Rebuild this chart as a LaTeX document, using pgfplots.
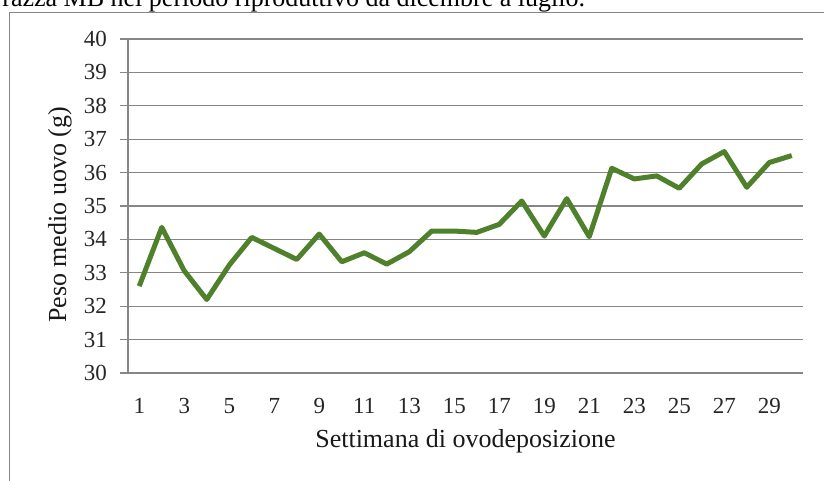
\documentclass[border=0pt]{standalone}
\usepackage{pgfplots}
\pgfplotsset{compat=1.18}
\usepackage{fontspec}
\setmainfont{Liberation Serif}
\definecolor{linegreen}{RGB}{79,129,45}
\definecolor{gridgray}{RGB}{134,134,134}
\begin{document}
\begin{tikzpicture}[x=1pt,y=1pt]
\useasboundingbox (0,0) rectangle (412,240.5);
\node[anchor=base west, inner sep=0pt, font=\fontsize{13}{15}\selectfont] at (1,237.2) {razza MB nel periodo riproduttivo da dicembre a luglio.};
\draw[gridgray, line width=0.6pt] (4.65,-1) -- (4.65,234.3) -- (420,234.3);
\begin{axis}[
  at={(64pt,54pt)}, anchor=south west,
  scale only axis, width=337.5pt, height=167pt,
  xmin=0.5, xmax=30.5, ymin=30, ymax=40,
  axis x line*=bottom, axis y line*=left,
  axis line style={gridgray, line width=0.6pt},
  xtick={1,3,...,29},
  minor xtick={0.5,2.5,...,30.5},
  ytick={30,31,...,40},
  xtick style={draw=none},
  minor tick style={gridgray, line width=0.6pt},
  ytick style={gridgray, line width=0.6pt},
  tick align=outside,
  major tick length=4pt, minor tick length=4pt,
  ymajorgrids,
  grid style={gridgray, line width=0.6pt},
  /pgf/number format/assume math mode=true,
  tick label style={font=\fontsize{11.5}{13}\selectfont, text=black!85},
  yticklabel style={anchor=east, xshift=-3pt},
  xticklabel style={anchor=north, yshift=-5pt},
  label style={font=\fontsize{13}{15}\selectfont, text=black!90},
  ylabel={Peso medio uovo (g)},
  ylabel style={at={(axis description cs:-0.1007,0.473)}, anchor=center, rotate=0},
  xlabel={Settimana di ovodeposizione},
  xlabel style={at={(axis description cs:0.5,-0.203)}, anchor=center},
  clip=false,
]
\addplot[linegreen, line width=2.5pt, line join=round, no markers] coordinates {
(1,32.6) (2,34.36) (3,33.06) (4,32.2) (5,33.23) (6,34.06) (7,33.73) (8,33.4)
(9,34.16) (10,33.33) (11,33.6) (12,33.26) (13,33.63) (14,34.25) (15,34.25)
(16,34.21) (17,34.45) (18,35.15) (19,34.1) (20,35.22) (21,34.08) (22,36.13)
(23,35.81) (24,35.9) (25,35.53) (26,36.26) (27,36.63) (28,35.56) (29,36.3) (30,36.51)
};
\end{axis}
\end{tikzpicture}
\end{document}
